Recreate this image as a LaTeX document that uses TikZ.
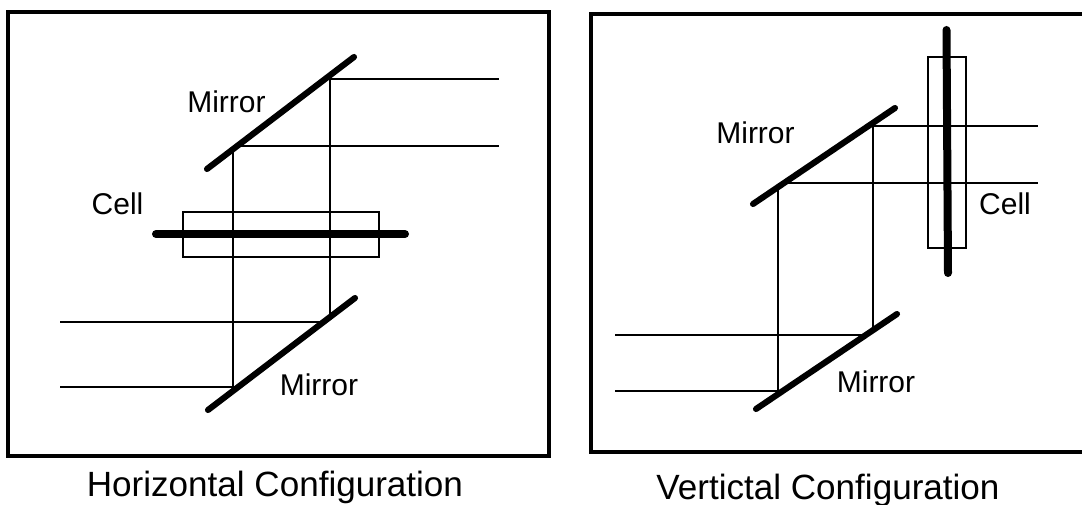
\documentclass[tikz,border=0pt]{standalone}
\usepackage{fontspec}
\setmainfont{Liberation Sans}
\tikzset{
  framebox/.style={draw, line width=2.8pt},
  mirrorline/.style={line width=4.6pt, line cap=round},
  cellline/.style={line width=6pt, line cap=round},
  cellbox/.style={draw, line width=0.9pt},
  beam/.style={line width=1pt},
  partlabel/.style={font=\fontsize{22.5}{26}\selectfont, inner sep=0pt},
  captionlabel/.style={font=\fontsize{26.3}{30}\selectfont, inner sep=0pt}
}
\begin{document}
\begin{tikzpicture}[x=0.75pt, y=-0.75pt]
  \useasboundingbox (0,0) rectangle (1082,505);
  % left panel
  \draw[framebox] (8,12) rectangle (549,456);
  \draw[cellbox] (183,212) rectangle (379,257);
  \coordinate (hUpA) at (207,169);
  \coordinate (hUpB) at (354,57);
  \coordinate (hLowA) at (208,410);
  \coordinate (hLowB) at (355,298);
  \coordinate (hCellA) at (156,234);
  \coordinate (hCellB) at (405,234);
  \draw[beam] (60,322) -- (320,322);
  \draw[beam] (330,314) -- (330,79) -- (499,79);
  \draw[beam] (60,387) -- (233,387) -- (233,152);
  \draw[beam] (240,146) -- (499,146);
  \draw[mirrorline] (hUpA) -- (hUpB);
  \draw[mirrorline] (hLowA) -- (hLowB);
  \draw[cellline] (hCellA) -- (hCellB);
  \node[partlabel] (hMirrorUp) at (226.5,102) {Mirror};
  \node[partlabel] (hMirrorLow) at (319,385) {Mirror};
  \node[partlabel] (hCell) at (117.5,204) {Cell};
  \node[captionlabel] (hCaption) at (275,487) {Horizontal Configuration};
  % right panel
  \draw[framebox] (591,14) rectangle (1086,452);
  \draw[cellbox] (928,57) rectangle (966,248);
  \coordinate (vUpA) at (753,204);
  \coordinate (vUpB) at (895,108);
  \coordinate (vLowA) at (756,409);
  \coordinate (vLowB) at (897,314);
  \coordinate (vCellA) at (946.5,30);
  \coordinate (vCellB) at (948,273);
  \draw[beam] (615,335) -- (865,335);
  \draw[beam] (873,328) -- (873,126) -- (1038,126);
  \draw[beam] (615,391) -- (778,391) -- (778,190);
  \draw[beam] (783,183) -- (1038,183);
  \draw[mirrorline] (vUpA) -- (vUpB);
  \draw[mirrorline] (vLowA) -- (vLowB);
  \draw[cellline] (vCellA) -- (vCellB);
  \node[partlabel] (vMirrorUp) at (755.5,133) {Mirror};
  \node[partlabel] (vMirrorLow) at (876,382) {Mirror};
  \node[partlabel] (vCell) at (1005,204) {Cell};
  \node[captionlabel] (vCaption) at (828,490) {Vertictal Configuration};
\end{tikzpicture}
\end{document}
